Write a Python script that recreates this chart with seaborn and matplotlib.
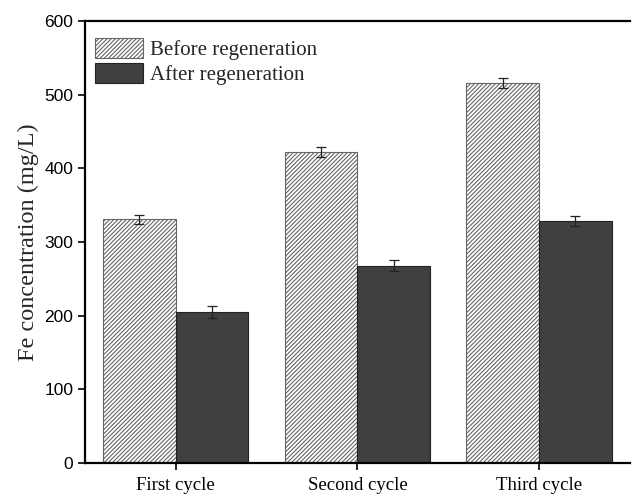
import matplotlib
matplotlib.use("Agg")
import matplotlib.pyplot as plt
import seaborn as sns
import pandas as pd
from matplotlib.patches import Patch

categories = ["First cycle", "Second cycle", "Third cycle"]
series_names = ["Before regeneration", "After regeneration"]
before_vals = [331, 422, 516]
after_vals = [205, 268, 328]
before_err = [6, 7, 7]
after_err = [8, 8, 7]
yticks = [0, 100, 200, 300, 400, 500, 600]

df = pd.DataFrame({
    "cycle": categories * 2,
    "group": [series_names[0]] * 3 + [series_names[1]] * 3,
    "value": before_vals + after_vals,
})

sns.set_style("ticks")
plt.rcParams["hatch.color"] = "#666666"
plt.rcParams["hatch.linewidth"] = 0.8

fig = plt.figure(figsize=(6.32, 4.98), dpi=100)
ax = fig.add_axes([0.1345, 0.0703, 0.862, 0.8877])

sns.barplot(data=df, x="cycle", y="value", hue="group", order=categories,
            hue_order=series_names, palette=["white", "#404040"],
            width=0.8, errorbar=None, ax=ax, legend=False)

HATCH = "////////"
patches = ax.patches[:6]
for i, p in enumerate(patches):
    if i < 3:
        p.set_facecolor("white")
        p.set_hatch(HATCH)
        p.set_edgecolor("#666666")
        p.set_linewidth(0.8)
    else:
        p.set_facecolor("#404040")
        p.set_edgecolor("#222222")
        p.set_linewidth(0.8)

errs = before_err + after_err
vals = before_vals + after_vals
xs = [p.get_x() + p.get_width() / 2 for p in patches]
ax.errorbar(xs, vals, yerr=errs, fmt="none", ecolor="#222222",
            elinewidth=0.9, capsize=3.5, capthick=0.9)

ax.set_xlim(-0.5, 2.5)
ax.set_ylim(0, 600)
ax.set_yticks(yticks)
ax.set_yticklabels([str(t) for t in yticks], family="Liberation Sans", fontsize=12.5)
ax.set_xticks(range(3))
ax.set_xticklabels(categories, family="Liberation Serif", fontsize=13.5)
ax.set_xlabel("")
ax.set_ylabel("Fe concentration (mg/L)", family="Liberation Serif", fontsize=17.5, labelpad=4)
ax.tick_params(direction="out", length=5, width=1.2, colors="black")
ax.tick_params(axis="x", pad=5)
for s in ["left", "bottom", "top"]:
    ax.spines[s].set_linewidth(1.6)
    ax.spines[s].set_color("black")
ax.spines["right"].set_visible(False)

handles = [Patch(facecolor="white", edgecolor="#666666", hatch=HATCH, linewidth=0.8),
           Patch(facecolor="#404040", edgecolor="#222222", linewidth=0.8)]
ax.legend(handles, series_names, loc="upper left", frameon=False,
          prop={"family": "Liberation Serif", "size": 15},
          handlelength=2.3, handleheight=1.1, handletextpad=0.3,
          labelspacing=0.15, borderpad=0.4, borderaxespad=0.1,
          bbox_to_anchor=(0.0, 0.985))

fig.savefig("out.png", dpi=100)
